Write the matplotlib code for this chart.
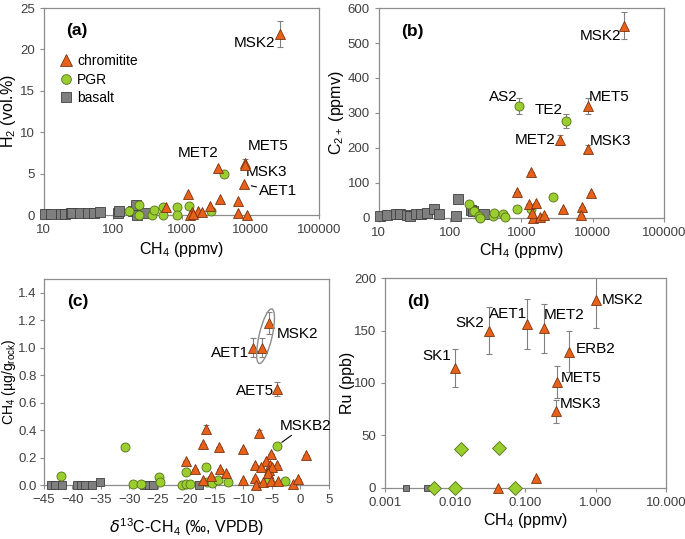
import matplotlib
matplotlib.use('Agg')
import matplotlib.pyplot as plt
from matplotlib.patches import Ellipse
from matplotlib.lines import Line2D
import matplotlib.transforms as transforms

plt.rcParams['font.family'] = ['Liberation Sans', 'DejaVu Sans']
plt.rcParams['mathtext.default'] = 'regular'

# ---- panel (a): H2 vs CH4
a_chr_x = [26500, 3400, 8400, 8300, 8200, 1250, 3600, 6700, 2600, 600, 1750, 1400, 2000, 1330, 1450, 6700, 8900]
a_chr_y = [21.9, 5.7, 6.3, 6.1, 3.7, 2.5, 1.95, 1.75, 1.1, 1.0, 0.55, 0.4, 0.35, 0.0, 0.1, 0.2, 0.0]
a_pgr_x = [170, 245, 240, 375, 395, 540, 545, 850, 860, 1300, 2650, 4100]
a_pgr_y = [0.5, 1.2, 0.0, 0.0, 0.6, 1.0, 0.0, 1.0, 0.0, 1.1, 0.5, 4.9]
a_bas_x = [10.3, 12.5, 17.5, 20, 24.5, 26, 33, 44, 54, 65, 118, 125, 200, 215, 225, 290]
a_bas_y = [0.1, 0.1, 0.1, 0.1, 0.2, 0.3, 0.2, 0.2, 0.2, 0.4, 0.2, 0.5, 0.5, 1.2, 0.05, 0.2]
a_err_x = [26500, 8400]
a_err_y = [21.9, 6.3]
a_err = [1.6, 0.5]

# ---- panel (b): C2+ vs CH4
b_chr_x = [28000, 8700, 3500, 8600, 1350, 875, 9500, 1280, 1600, 3800, 7200, 7000, 1480, 1830, 2100, 1430]
b_chr_y = [550, 320, 222, 197, 131, 73, 70, 38, 41, 26, 31, 7, 0, 3, 7, 14]
b_chr_err = [38, 22, 15, 12, 0, 0, 0, 0, 0, 0, 0, 0, 0, 0, 0, 0]
b_pgr_x = [185, 215, 255, 260, 400, 415, 560, 600, 877, 930, 1380, 2800, 4300]
b_pgr_y = [40, 19, 5, 0, 5, 14, 10, 3, 24, 320, 26, 60, 276]
b_pgr_err = [0, 0, 0, 0, 0, 0, 0, 0, 0, 22, 0, 0, 20]
b_bas_x = [10.3, 13, 17.6, 20, 24.7, 27, 33, 39, 47, 59, 69, 120, 130, 200, 212, 295]
b_bas_y = [6, 8, 10, 10, 7, 5, 10, 12, 15, 25, 12, 5, 53, 22, 20, 10]

# ---- panel (c): CH4 vs d13C
c_chr_x = [-5.5, -6.7, -8.3, -4.1, -16.6, -7.3, -17.1, -14.2, -10.1, 1.0, -5.1, -20.1, -6.1, -18.4,
           -7.9, -5.4, -4.1, -6.9, -14.1, -13.0, -5.5, -4.9, -5.7, -15.6, -17.1, -10.1, -7.9, -7.8,
           -6.5, -5.1, -4.0, -1.3, -0.4]
c_chr_y = [1.18, 1.0, 1.0, 0.70, 0.41, 0.38, 0.30, 0.28, 0.265, 0.22, 0.23, 0.175, 0.175, 0.115,
           0.15, 0.145, 0.145, 0.135, 0.12, 0.09, 0.11, 0.13, 0.09, 0.065, 0.035, 0.04, 0.055, 0.0,
           0.025, 0.03, 0.03, 0.01, 0.045]
c_chr_err = [0.08, 0.07, 0.07, 0.05, 0.03, 0.02] + [0] * 27
c_pgr_x = [-42, -30.7, -29.4, -27.9, -24.8, -24.7, -20.7, -20.1, -20.0, -19.3, -16.6, -16.4, -15.5,
           -14.5, -12.7, -5.5, -4.05, -2.6]
c_pgr_y = [0.066, 0.276, 0.007, 0.005, 0.056, 0.02, 0.003, 0.098, 0.005, 0.006, 0.134, 0.025, 0.012,
           0.037, 0.022, 0.038, 0.288, 0.03]
c_bas_x = [-43.7, -43.0, -41.8, -39.2, -38.5, -37.8, -36.5, -35.2, -27.5, -26.6, -25.9, -17.8]
c_bas_y = [0, 0, 0, 0, 0, 0, 0, 0.02, 0, 0, 0, 0]

# ---- panel (d): Ru vs CH4
d_chr_x = [0.010, 0.0306, 0.104, 0.182, 1.0, 0.42, 0.28, 0.27, 0.14, 0.041]
d_chr_y = [114, 150, 156, 152, 179, 130, 101, 73, 9.5, 0]
d_chr_err = [18, 22, 24, 23, 27, 20, 15, 11, 0, 0]
d_pgr_x = [0.0123, 0.042, 0.005, 0.0101, 0.072]
d_pgr_y = [37, 37.5, 0, 0, 0]
d_bas_x = [0.002, 0.004, 0.0049]
d_bas_y = [0, 0, 0]

tri = dict(marker='^', ls='none', ms=7.5, mfc='#E8611A', mec='#7A3410', mew=0.6, clip_on=False, zorder=4)
cir = dict(marker='o', ls='none', ms=6.5, mfc='#9ACD2E', mec='#55701A', mew=0.6, clip_on=False, zorder=3)
sqr = dict(marker='s', ls='none', ms=6.5, mfc='#7F7F7F', mec='#3F3F3F', mew=0.6, clip_on=False, zorder=3)
errkw = dict(fmt='none', ecolor='#808080', elinewidth=0.8, capsize=2, capthick=0.8, zorder=2)
txt = dict(fontsize=11, ha='center', va='center', textcoords='offset pixels')

fig = plt.figure(figsize=(6.85, 5.39), dpi=100)


def style(ax, xl, yl, lx, ly, ysize=11.5):
    for s in ax.spines.values():
        s.set_color('#8C8C8C')
        s.set_linewidth(0.9)
    ax.tick_params(direction='out', length=3, color='#8C8C8C', labelsize=9.5, labelcolor='#404040')
    ax.tick_params(which='minor', length=0)
    ax.set_xlabel(xl, fontsize=11.5)
    ax.set_ylabel(yl, fontsize=ysize)
    ax.xaxis.set_label_coords(0.5, lx)
    ax.yaxis.set_label_coords(ly, 0.5)


def lab(ax, name, x, y, dx, dy, line=None):
    if line:
        ax.annotate(name, xy=(x, y), xytext=(dx, dy),
                    arrowprops=dict(arrowstyle='-', color='black', lw=0.8,
                                    shrinkA=0, shrinkB=line), **txt)
    else:
        ax.annotate(name, xy=(x, y), xytext=(dx, dy), **txt)


def tag(ax, s):
    ax.text(0.08, 0.89, s, transform=ax.transAxes, fontsize=12.5, fontweight='bold', va='center')


# (a)
ax = fig.add_axes([0.064, 0.601, 0.402, 0.384])
ax.errorbar(a_err_x, a_err_y, yerr=a_err, **errkw)
ax.plot(a_bas_x, a_bas_y, **sqr)
ax.plot(a_pgr_x, a_pgr_y, **cir)
ax.plot(a_chr_x, a_chr_y, **tri)
ax.set_xscale('log')
ax.set_xlim(10, 100000)
ax.set_ylim(0, 25)
ax.set_xticks([10, 100, 1000, 10000, 100000])
ax.set_xticklabels(['10', '100', '1000', '10000', '100000'])
ax.set_yticks(range(0, 26, 5))
style(ax, 'CH$_4$ (ppmv)', 'H$_2$ (vol.%)', -0.12, -0.095)
tag(ax, '(a)')
lab(ax, 'MSK2', 26500, 21.9, -25, -9)
lab(ax, 'MET2', 3400, 5.7, -20, 15)
lab(ax, 'MET5', 8400, 6.3, 23, 17)
lab(ax, 'MSK3', 8400, 6.3, 21, -9)
lab(ax, 'AET1', 8200, 3.7, 34, -7, line=5)
handles = [Line2D([], [], **dict(tri, ms=8)), Line2D([], [], **dict(cir, ms=7)),
           Line2D([], [], **dict(sqr, ms=7))]
ax.legend(handles, ['chromitite', 'PGR', 'basalt'], loc='upper left', bbox_to_anchor=(0.035, 0.81),
          frameon=False, fontsize=10, handlelength=0.8, handletextpad=0.4, labelspacing=0.3,
          borderpad=0)

# (b)
ax = fig.add_axes([0.553, 0.596, 0.416, 0.389])
ax.errorbar(b_chr_x, b_chr_y, yerr=b_chr_err, **errkw)
ax.errorbar(b_pgr_x, b_pgr_y, yerr=b_pgr_err, **errkw)
ax.plot(b_bas_x, b_bas_y, **sqr)
ax.plot(b_pgr_x, b_pgr_y, **cir)
ax.plot(b_chr_x, b_chr_y, **tri)
ax.set_xscale('log')
ax.set_xlim(10, 100000)
ax.set_ylim(0, 600)
ax.set_xticks([10, 100, 1000, 10000, 100000])
ax.set_xticklabels(['10', '100', '1000', '10000', '100000'])
ax.set_yticks(range(0, 601, 100))
style(ax, 'CH$_4$ (ppmv)', 'C$_{2+}$ (ppmv)', -0.11, -0.115)
tag(ax, '(b)')
lab(ax, 'MSK2', 28000, 550, -24, -10)
lab(ax, 'AS2', 930, 320, -16, 9)
lab(ax, 'TE2', 4300, 276, -18, 11)
lab(ax, 'MET5', 8700, 320, 21, 9)
lab(ax, 'MET2', 3500, 222, -25, 0)
lab(ax, 'MSK3', 8600, 197, 23, 8)

# (c)
ax = fig.add_axes([0.064, 0.100, 0.416, 0.382])
ax.errorbar(c_chr_x, c_chr_y, yerr=c_chr_err, **errkw)
ax.plot(c_bas_x, c_bas_y, **dict(sqr, ms=5.5))
ax.plot(c_pgr_x, c_pgr_y, **cir)
ax.plot(c_chr_x, c_chr_y, **tri)
ax.set_xlim(-45, 5)
ax.set_ylim(0, 1.5)
ax.set_xticks(range(-45, 6, 5))
ax.set_yticks([0.0, 0.2, 0.4, 0.6, 0.8, 1.0, 1.2, 1.4])
ax.set_yticklabels(['0.0', '0.2', '0.4', '0.6', '0.8', '1.0', '1.2', '1.4'])
style(ax, r'$\mathit{\delta}^{13}$C-CH$_4$ (‰, VPDB)', 'CH$_4$ (µg/g$_{rock}$)', -0.15, -0.092,
      ysize=10)
ax.tick_params(axis='y', pad=2)
tag(ax, '(c)')
etr = fig.dpi_scale_trans + transforms.ScaledTranslation(-6.1, 1.085, ax.transData)
ax.add_patch(Ellipse((0, 0), width=0.13, height=0.56, angle=-13, transform=etr,
                     fill=False, ec='#8C8C8C', lw=1.0, zorder=5))
lab(ax, 'MSK2', -5.5, 1.18, 29, -11)
lab(ax, 'AET1', -8.3, 1.0, -23, -5)
lab(ax, 'AET5', -4.1, 0.70, -22, -2)
lab(ax, 'MSKB2', -4.05, 0.288, 28, 20, line=4)

# (d)
ax = fig.add_axes([0.562, 0.095, 0.410, 0.389])
ax.errorbar(d_chr_x, d_chr_y, yerr=d_chr_err, **errkw)
ax.plot(d_bas_x, d_bas_y, **dict(sqr, ms=4.5))
ax.plot(d_pgr_x, d_pgr_y, **dict(cir, marker='D', ms=7.5))
ax.plot(d_chr_x, d_chr_y, **tri)
ax.set_xscale('log')
ax.set_xlim(0.001, 10)
ax.set_ylim(0, 200)
ax.set_xticks([0.001, 0.01, 0.1, 1, 10])
ax.set_xticklabels(['0.001', '0.010', '0.100', '1.000', '10.000'])
ax.set_yticks(range(0, 201, 50))
style(ax, 'CH$_4$ (ppmv)', 'Ru (ppb)', -0.11, -0.105)
tag(ax, '(d)')
lab(ax, 'SK1', 0.010, 114, -18, 12)
lab(ax, 'SK2', 0.0306, 150, -20, 8)
lab(ax, 'AET1', 0.104, 156, -19, 10)
lab(ax, 'MET2', 0.182, 152, 20, 13)
lab(ax, 'MSK2', 1.0, 179, 27, 0)
lab(ax, 'ERB2', 0.42, 130, 26, 3)
lab(ax, 'MET5', 0.28, 101, 24, 4)
lab(ax, 'MSK3', 0.27, 73, 25, 7)

fig.savefig('out.png', dpi=100)
